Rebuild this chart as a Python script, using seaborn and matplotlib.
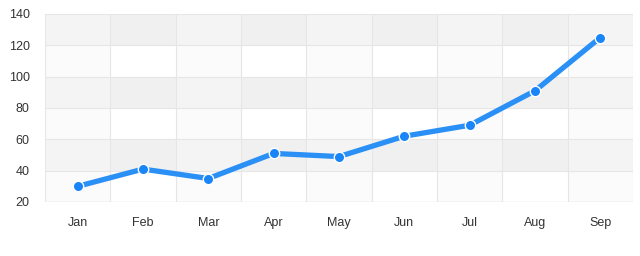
import matplotlib
matplotlib.use("Agg")
import matplotlib.pyplot as plt
import seaborn as sns
import pandas as pd

months = ["Jan", "Feb", "Mar", "Apr", "May", "Jun", "Jul", "Aug", "Sep"]
values = [30, 41, 35, 51, 49, 62, 69, 91, 125]
y_ticks = [20, 40, 60, 80, 100, 120, 140]

sns.set_theme(style="white")
plt.rcParams["font.family"] = ["Liberation Sans", "DejaVu Sans"]

df = pd.DataFrame({"month": months, "value": values})

fig = plt.figure(figsize=(6.4, 2.56), dpi=100)
ax = fig.add_axes([45 / 640, 54 / 256, 588 / 640, 188 / 256])

# horizontal bands
for i in range(len(y_ticks) - 1):
    if i % 2 == 1:
        ax.axhspan(y_ticks[i], y_ticks[i + 1], color="#f0f0f0", lw=0, zorder=0)
# vertical bands
for i in range(len(months)):
    if i % 2 == 0:
        ax.axvspan(i - 0.5, i + 0.5, color="#f8f8f8", alpha=0.55, lw=0, zorder=0.5)

# grid lines
for yv in y_ticks[1:]:
    ax.axhline(yv, color="#e6e6e6", lw=0.8, zorder=1)
for i in range(len(months) + 1):
    ax.axvline(i - 0.5, color="#e6e6e6", lw=0.8, zorder=1)
ax.axhline(y_ticks[0], color="#dcdcdc", lw=1.0, zorder=1.5)

sns.lineplot(data=df, x="month", y="value", sort=False, ax=ax,
             color="#2a90f5", lw=3.8, marker="o", markersize=7.5,
             markerfacecolor="#1a85f8", markeredgecolor="white",
             markeredgewidth=1.0, zorder=3)

ax.set_xlim(-0.5, len(months) - 0.5)
ax.set_ylim(20, 140)
ax.set_yticks(y_ticks)
ax.set_xticks(range(len(months)))
ax.set_xticklabels(months)
ax.set_xlabel("")
ax.set_ylabel("")
ax.tick_params(axis="both", length=0, labelsize=9, labelcolor="#333333")
ax.tick_params(axis="y", pad=11)
ax.tick_params(axis="x", pad=11)
for s in ax.spines.values():
    s.set_visible(False)
ax.grid(False)

fig.savefig("out.png", dpi=100, facecolor="white")
